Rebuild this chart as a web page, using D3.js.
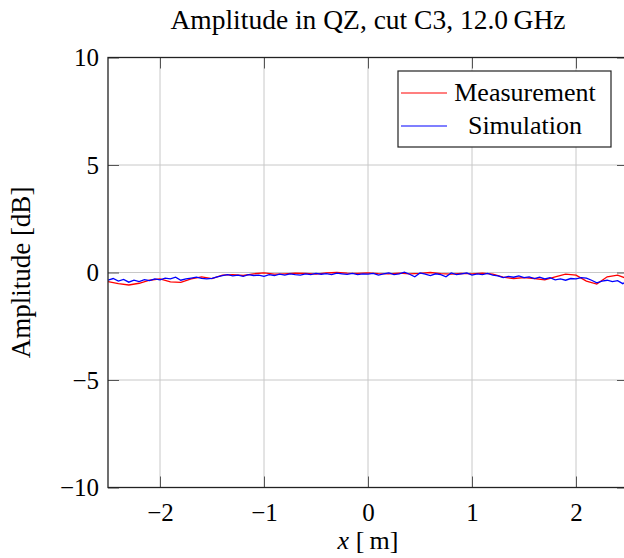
<!DOCTYPE html>
<html><head><meta charset="utf-8">
<script src="https://cdn.jsdelivr.net/npm/d3@7"></script>
<style>body{margin:0;background:#fff}svg{display:block}text{font-family:"Liberation Serif","Times New Roman",serif;fill:#000}</style>
</head><body><svg id="c" width="624" height="558"></svg>
<script>
const title = "Amplitude in QZ, cut C3, 12.0\u2009GHz";
const xTicks = [-2, -1, 0, 1, 2];
const yTicks = [-10, -5, 0, 5, 10];
const seriesNames = ["Measurement", "Simulation"];
const seriesColors = ["#ff0000", "#0000ff"];
const measX = [-2.5,-2.4,-2.3,-2.2,-2.1,-2.0,-1.9,-1.8,-1.7,-1.6,-1.5,-1.4,-1.3,-1.2,-1.1,-1.0,-0.9,-0.8,-0.7,-0.6,-0.5,-0.4,-0.3,-0.2,-0.1,0.0,0.1,0.2,0.3,0.4,0.5,0.6,0.7,0.8,0.9,1.0,1.1,1.2,1.3,1.4,1.5,1.6,1.7,1.8,1.9,2.0,2.1,2.2,2.3,2.4,2.5];
const measY = [-0.42,-0.52,-0.58,-0.5,-0.36,-0.3,-0.44,-0.46,-0.3,-0.2,-0.28,-0.12,-0.1,-0.14,-0.06,-0.02,-0.08,-0.06,-0.03,-0.04,-0.08,-0.02,0.0,-0.03,-0.04,-0.02,-0.05,-0.06,-0.03,-0.06,-0.04,0.0,-0.05,-0.08,-0.04,-0.06,-0.03,-0.08,-0.22,-0.28,-0.24,-0.28,-0.34,-0.2,-0.08,-0.12,-0.4,-0.54,-0.2,-0.12,-0.3];
const simX = [-2.5,-2.45,-2.4,-2.35,-2.3,-2.25,-2.2,-2.15,-2.1,-2.05,-2.0,-1.95,-1.9,-1.85,-1.8,-1.75,-1.7,-1.65,-1.6,-1.55,-1.5,-1.45,-1.4,-1.35,-1.3,-1.25,-1.2,-1.15,-1.1,-1.05,-1.0,-0.95,-0.9,-0.85,-0.8,-0.75,-0.7,-0.65,-0.6,-0.55,-0.5,-0.45,-0.4,-0.35,-0.3,-0.25,-0.2,-0.15,-0.1,-0.05,0.0,0.05,0.1,0.15,0.2,0.25,0.3,0.35,0.4,0.45,0.5,0.55,0.6,0.65,0.7,0.75,0.8,0.85,0.9,0.95,1.0,1.05,1.1,1.15,1.2,1.25,1.3,1.35,1.4,1.45,1.5,1.55,1.6,1.65,1.7,1.75,1.8,1.85,1.9,1.95,2.0,2.05,2.1,2.15,2.2,2.25,2.3,2.35,2.4,2.45,2.5];
const simY = [-0.36,-0.28,-0.4,-0.32,-0.45,-0.36,-0.42,-0.33,-0.38,-0.3,-0.34,-0.26,-0.3,-0.22,-0.36,-0.3,-0.26,-0.22,-0.27,-0.3,-0.27,-0.2,-0.15,-0.1,-0.16,-0.12,-0.18,-0.1,-0.14,-0.12,-0.18,-0.1,-0.14,-0.08,-0.12,-0.06,-0.1,-0.12,-0.06,-0.1,-0.04,-0.08,-0.05,-0.1,-0.03,-0.06,-0.09,-0.04,-0.1,-0.06,-0.08,-0.04,-0.12,-0.06,-0.02,-0.1,-0.06,0.02,-0.08,-0.2,-0.02,-0.08,-0.14,-0.06,-0.1,-0.2,-0.02,-0.1,-0.06,-0.02,-0.12,-0.06,-0.1,-0.04,-0.12,-0.16,-0.24,-0.18,-0.22,-0.16,-0.24,-0.2,-0.28,-0.22,-0.3,-0.24,-0.34,-0.3,-0.36,-0.28,-0.3,-0.24,-0.26,-0.36,-0.48,-0.4,-0.36,-0.42,-0.38,-0.52,-0.4];

const svg = d3.select("#c");
const L = 108, R = 628, T = 57.5, B = 487.5;
const x = d3.scaleLinear().domain([-2.5, 2.5]).range([L, R]);
const y = d3.scaleLinear().domain([-10, 10]).range([B, T]);

svg.append("text").attr("x", x(0)).attr("y", 29).attr("text-anchor", "middle")
  .style("font-size", "27.5px").text(title);

// grid
const g = svg.append("g");
g.selectAll(".gx").data(xTicks).join("line").attr("x1", d => x(d)).attr("x2", d => x(d))
  .attr("y1", T).attr("y2", B).attr("stroke", "#c8c8c8").attr("stroke-width", 1);
g.selectAll(".gy").data(yTicks).join("line").attr("y1", d => y(d)).attr("y2", d => y(d))
  .attr("x1", L).attr("x2", R).attr("stroke", "#c8c8c8").attr("stroke-width", 1);

// axes with inward ticks
const tl = 11;
const fmt = d => d < 0 ? "\u2212" + Math.abs(d) : String(d);
const axB = d3.axisBottom(x).tickValues(xTicks).tickSize(-tl).tickPadding(16).tickFormat(fmt);
const axT = d3.axisTop(x).tickValues(xTicks).tickSize(-tl).tickFormat("");
const axL = d3.axisLeft(y).tickValues(yTicks).tickSize(-tl).tickPadding(9).tickFormat(fmt);
const axR = d3.axisRight(y).tickValues(yTicks).tickSize(-tl).tickFormat("");
function styleAxis(sel) {
  sel.attr("font-family", "Liberation Serif").attr("font-size", 25);
  sel.select(".domain").remove();
  sel.selectAll(".tick line").attr("stroke", "#555").attr("stroke-width", 1);
  sel.selectAll(".tick text").attr("fill", "#000");
}
svg.append("g").attr("transform", `translate(0,${B})`).call(axB).call(styleAxis);
svg.append("g").attr("transform", `translate(0,${T})`).call(axT).call(styleAxis);
svg.append("g").attr("transform", `translate(${L},0)`).call(axL).call(styleAxis);
svg.append("g").attr("transform", `translate(${R},0)`).call(axR).call(styleAxis);

// clip
svg.append("clipPath").attr("id", "clip").append("rect").attr("x", L).attr("y", T).attr("width", R - L).attr("height", B - T);
const line = d3.line().x(d => x(d[0])).y(d => y(d[1]));
const series = [d3.zip(measX, measY), d3.zip(simX, simY)];
svg.append("g").attr("clip-path", "url(#clip)").selectAll("path").data(series).join("path")
  .attr("d", line).attr("fill", "none").attr("stroke", (d, i) => seriesColors[i]).attr("stroke-width", 1.3);

// frame
svg.append("rect").attr("x", L).attr("y", T).attr("width", R - L).attr("height", B - T)
  .attr("fill", "none").attr("stroke", "#222").attr("stroke-width", 1.3);

// labels
svg.append("text").attr("transform", `translate(30,${(T + B) / 2}) rotate(-90)`).attr("text-anchor", "middle")
  .style("font-size", "27px").text("Amplitude [dB]");
const xl = svg.append("text").attr("x", x(0)).attr("y", 549).attr("text-anchor", "middle").style("font-size", "26px");
xl.append("tspan").style("font-style", "italic").text("x");
xl.append("tspan").text(" [\u2009m]");

// legend
const lg = svg.append("g");
lg.append("rect").attr("x", 398).attr("y", 71).attr("width", 213).attr("height", 76)
  .attr("fill", "#fff").attr("stroke", "#222").attr("stroke-width", 1.2);
const rows = lg.selectAll(".row").data(seriesNames).join("g");
rows.append("line").attr("x1", 401).attr("x2", 447).attr("y1", (d, i) => 93 + i * 33).attr("y2", (d, i) => 93 + i * 33)
  .attr("stroke", (d, i) => seriesColors[i]).attr("stroke-width", 1.2);
rows.append("text").attr("x", 525).attr("y", (d, i) => 100.5 + i * 33).attr("text-anchor", "middle")
  .style("font-size", "26px").text(d => d);
</script></body></html>
